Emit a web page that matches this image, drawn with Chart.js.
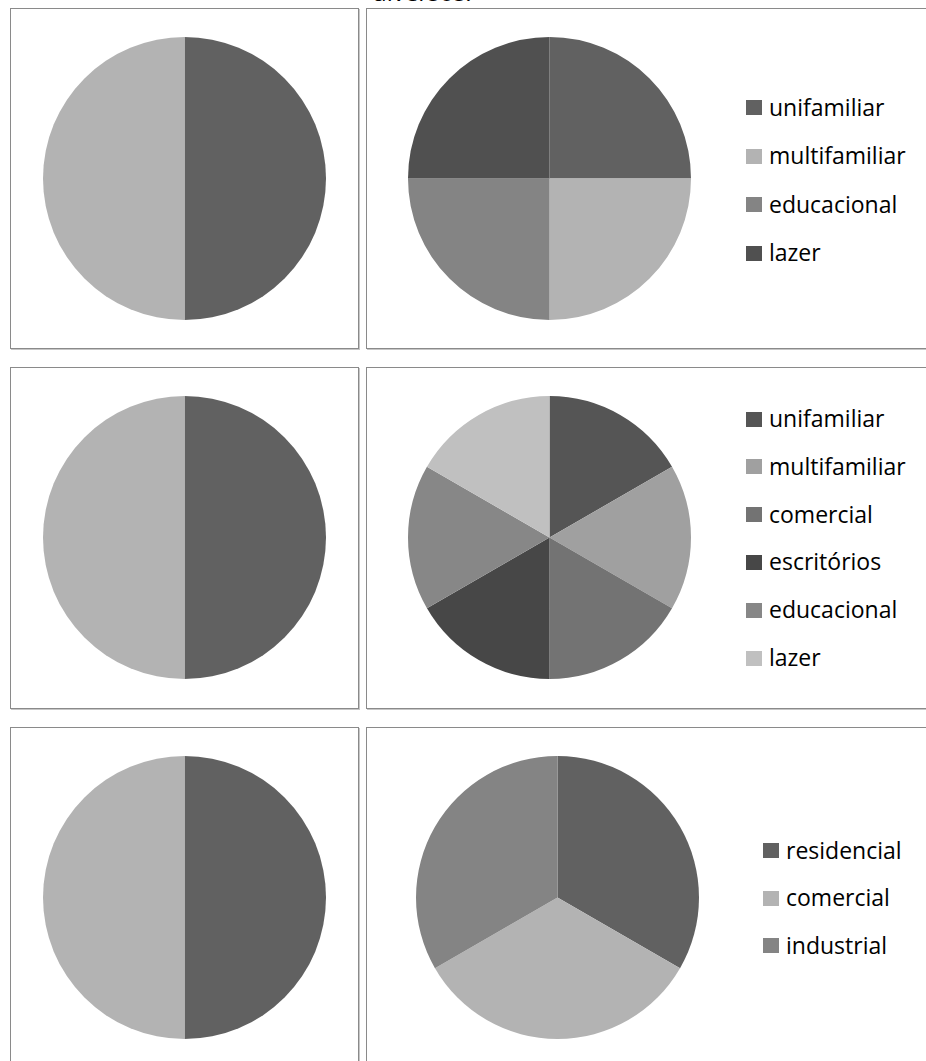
<!DOCTYPE html>
<html lang="pt">
<head>
<meta charset="utf-8">
<title>Tipologias</title>
<script src="https://cdn.jsdelivr.net/npm/chart.js@4.4.1/dist/chart.umd.min.js"></script>
<style>
  html, body { margin: 0; padding: 0; background: #fff; }
  #page { position: relative; width: 926px; height: 1061px; overflow: hidden; font-family: "Open Sans", "Liberation Sans", sans-serif; }
  .panel { position: absolute; border: 1px solid #8a8a8a; box-shadow: 1px 1px 0 #c6c6c6; box-sizing: border-box; background: #fff; }
  .pie { position: absolute; }
  .legend { position: absolute; margin: 0; padding: 0; list-style: none; }
  .legend li { position: absolute; left: 0; display: flex; align-items: center; white-space: nowrap; height: 22px; font-size: 23px; line-height: 22px; color: #000; }
  .legend .sw { display: inline-block; width: 16px; height: 15px; margin-right: 7px; flex: none; position: relative; top: 1px; }
  #title { position: absolute; left: 372px; top: -21px; font-size: 24px; line-height: 26px; color: #000; white-space: nowrap; }
</style>
</head>
<body>
<div id="page">
  <div id="title">diversos.</div>

  <div class="panel" style="left:10px; top:8px; width:349px; height:341px;"></div>
  <div class="panel" style="left:366px; top:8px; width:600px; height:341px;"></div>
  <div class="panel" style="left:10px; top:367px; width:349px; height:342px;"></div>
  <div class="panel" style="left:366px; top:367px; width:600px; height:342px;"></div>
  <div class="panel" style="left:10px; top:727px; width:349px; height:400px;"></div>
  <div class="panel" style="left:366px; top:727px; width:600px; height:400px;"></div>

  <canvas id="c1a" class="pie" width="283" height="283"></canvas>
  <canvas id="c1b" class="pie" width="283" height="283"></canvas>
  <canvas id="c2a" class="pie" width="283" height="283"></canvas>
  <canvas id="c2b" class="pie" width="283" height="283"></canvas>
  <canvas id="c3a" class="pie" width="283" height="283"></canvas>
  <canvas id="c3b" class="pie" width="283" height="283"></canvas>

  <ul id="l1b" class="legend"></ul>
  <ul id="l2b" class="legend"></ul>
  <ul id="l3b" class="legend"></ul>
</div>

<script>
// Row 1: housing split and four building types
const row1LeftLabels = ['unifamiliar', 'multifamiliar'];
const row1LeftValues = [1, 1];
const row1RightLabels = ['unifamiliar', 'multifamiliar', 'educacional', 'lazer'];
const row1RightValues = [1, 1, 1, 1];

// Row 2: housing split and six building types
const row2LeftLabels = ['unifamiliar', 'multifamiliar'];
const row2LeftValues = [1, 1];
const row2RightLabels = ['unifamiliar', 'multifamiliar', 'comercial', 'escritórios', 'educacional', 'lazer'];
const row2RightValues = [1, 1, 1, 1, 1, 1];

// Row 3: two-way split and three land uses
const row3LeftLabels = ['residencial', 'comercial'];
const row3LeftValues = [1, 1];
const row3RightLabels = ['residencial', 'comercial', 'industrial'];
const row3RightValues = [1, 1, 1];

// Slice colours (grey scale)
const greysTwo = ['#616161', '#b3b3b3'];
const greysFour = ['#616161', '#b3b3b3', '#848484', '#505050'];
const greysSix = ['#555555', '#a0a0a0', '#737373', '#474747', '#878787', '#c0c0c0'];
const greysThree = ['#616161', '#b3b3b3', '#848484'];

const PIE_SIZE = 283;

function makePie(id, cx, cy, labels, values, colors) {
  const el = document.getElementById(id);
  el.style.left = (cx - PIE_SIZE / 2) + 'px';
  el.style.top = (cy - PIE_SIZE / 2) + 'px';
  return new Chart(el, {
    type: 'pie',
    data: {
      labels: labels,
      datasets: [{
        data: values,
        backgroundColor: colors,
        borderWidth: 0
      }]
    },
    options: {
      responsive: false,
      animation: false,
      layout: { padding: 0 },
      plugins: {
        legend: { display: false },
        tooltip: { enabled: false }
      }
    }
  });
}

// Legend list built from the chart's own legend items, vertically centred on cy
function makeLegend(id, chart, left, cy, step) {
  const ul = document.getElementById(id);
  const items = Chart.overrides.pie.plugins.legend.labels.generateLabels(chart);
  ul.style.left = left + 'px';
  ul.style.top = '0px';
  const n = items.length;
  items.forEach((it, i) => {
    const li = document.createElement('li');
    const center = cy + (i - (n - 1) / 2) * step;
    li.style.top = (center - 11) + 'px';
    const sw = document.createElement('span');
    sw.className = 'sw';
    sw.style.background = it.fillStyle;
    li.appendChild(sw);
    li.appendChild(document.createTextNode(it.text));
    ul.appendChild(li);
  });
}

const p1a = makePie('c1a', 184, 178, row1LeftLabels, row1LeftValues, greysTwo);
const p1b = makePie('c1b', 549, 178, row1RightLabels, row1RightValues, greysFour);
const p2a = makePie('c2a', 184, 537, row2LeftLabels, row2LeftValues, greysTwo);
const p2b = makePie('c2b', 549, 537, row2RightLabels, row2RightValues, greysSix);
const p3a = makePie('c3a', 184, 897, row3LeftLabels, row3LeftValues, greysTwo);
const p3b = makePie('c3b', 557, 897, row3RightLabels, row3RightValues, greysThree);

makeLegend('l1b', p1b, 746, 179.5, 48.5);
makeLegend('l2b', p2b, 746, 537.5, 47.8);
makeLegend('l3b', p3b, 763, 897, 47.5);
</script>
</body>
</html>
